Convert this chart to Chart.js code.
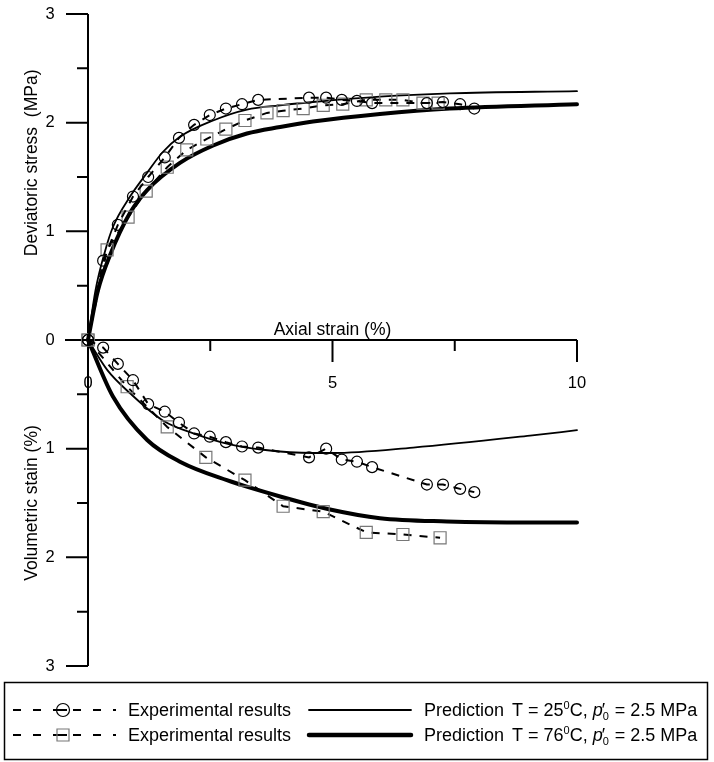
<!DOCTYPE html>
<html>
<head>
<meta charset="utf-8">
<script src="https://cdn.jsdelivr.net/npm/chart.js@4"></script>
<style>
  body { margin: 0; background: #fff; }
  #wrap { position: relative; width: 714px; height: 762px; }
</style>
</head>
<body>
<div id="wrap"><canvas id="chart"></canvas></div>
<script>
// experimental results, T = 25 C (circles)
const expAxial25 = [0, 0.31, 0.61, 0.92, 1.23, 1.57, 1.86, 2.17, 2.49, 2.82, 3.15, 3.48, 4.52, 4.87, 5.19, 5.50, 5.81, 6.93, 7.26, 7.61, 7.90];
const expStress25 = [0, 0.73, 1.06, 1.32, 1.50, 1.68, 1.86, 1.98, 2.07, 2.13, 2.17, 2.21, 2.23, 2.23, 2.21, 2.20, 2.18, 2.18, 2.19, 2.17, 2.13];
const expVol25 = [0, 0.07, 0.22, 0.37, 0.59, 0.66, 0.76, 0.86, 0.89, 0.94, 0.98, 0.99, 1.08, 1.00, 1.10, 1.12, 1.17, 1.33, 1.33, 1.37, 1.40];

// experimental results, T = 76 C (squares)
const expAxial76 = [0, 0.39, 0.82, 1.19, 1.62, 2.02, 2.43, 2.82, 3.21, 3.66, 3.99, 4.40, 4.81, 5.21, 5.69, 6.09, 6.44, 6.85, 7.16];
const expStress76 = [0, 0.83, 1.13, 1.37, 1.59, 1.75, 1.85, 1.94, 2.02, 2.09, 2.11, 2.13, 2.16, 2.17, 2.21, 2.21, 2.21, 2.18, 2.18];
const expAxialVol76 = [0, 0.80, 1.62, 2.41, 3.21, 3.99, 4.81, 5.69, 6.44, 7.20];
const expVol76 = [0, 0.43, 0.80, 1.08, 1.29, 1.53, 1.58, 1.77, 1.79, 1.82];

// predictions
const predAxialStress25 = [0, 0.15, 0.35, 0.51, 0.86, 1.21, 1.53, 1.88, 2.56, 3.25, 3.93, 4.60, 5.97, 7.40, 10];
const predStress25 = [0, 0.45, 0.82, 1.04, 1.32, 1.54, 1.73, 1.87, 2.02, 2.12, 2.16, 2.19, 2.24, 2.27, 2.29];
const predAxialStress76 = [0, 0.20, 0.45, 0.86, 1.21, 1.88, 2.56, 3.25, 3.93, 4.60, 5.97, 7.40, 10];
const predStress76 = [0, 0.45, 0.78, 1.17, 1.38, 1.63, 1.79, 1.90, 1.96, 2.01, 2.08, 2.13, 2.17];
const predAxialVol25 = [0, 0.40, 0.86, 1.53, 2.23, 2.90, 3.58, 4.60, 5.00, 6.65, 9.04, 10];
const predVol25 = [0, 0.28, 0.49, 0.74, 0.87, 0.96, 1.01, 1.04, 1.04, 0.99, 0.88, 0.83];
const predAxialVol76 = [0, 0.51, 1.21, 1.88, 2.84, 3.93, 4.95, 5.97, 7.34, 9.04, 10];
const predVol76 = [0, 0.52, 0.92, 1.12, 1.29, 1.44, 1.56, 1.64, 1.67, 1.68, 1.68];

// tick values
const yTicks = [-3, -2.5, -2, -1.5, -1, -0.5, 0, 0.5, 1, 1.5, 2, 2.5, 3];
const xTicks = [2.5, 5, 7.5, 10];
const xTickLabels = [0, 5, 10];

const font = "'Liberation Sans', Arial, sans-serif";

// volumetric strain is plotted downward
function pts(xs, ys, sign) {
    return xs.map((x, i) => ({ x: x, y: sign * ys[i] }));
}

function expSet(xs, ys, sign, style, color, r) {
    return {
        data: pts(xs, ys, sign),
        showLine: true,
        borderColor: '#000',
        borderWidth: 2,
        borderDash: [8, 8],
        pointStyle: style,
        pointRadius: r,
        pointBorderColor: color,
        pointBorderWidth: 1.2,
        pointBackgroundColor: 'rgba(0,0,0,0)',
        tension: 0
    };
}

function predSet(xs, ys, sign, width) {
    return {
        data: pts(xs, ys, sign),
        showLine: true,
        borderColor: '#000',
        borderWidth: width,
        pointRadius: 0,
        cubicInterpolationMode: 'monotone',
        borderCapStyle: 'round'
    };
}

const axesPlugin = {
    id: 'axesPlugin',
    beforeDatasetsDraw(chart) {
        const ctx = chart.ctx;
        const xs = chart.scales.x, ys = chart.scales.y;
        const x0 = xs.getPixelForValue(0), y0 = ys.getPixelForValue(0);
        ctx.save();
        ctx.strokeStyle = '#000';
        ctx.lineWidth = 2;
        ctx.beginPath();
        ctx.moveTo(x0, ys.getPixelForValue(3));
        ctx.lineTo(x0, ys.getPixelForValue(-3));
        ctx.moveTo(x0 - 23, y0);
        ctx.lineTo(xs.getPixelForValue(10), y0);
        yTicks.forEach(v => {
            const y = ys.getPixelForValue(v);
            const len = Number.isInteger(v) ? 22 : 11;
            ctx.moveTo(x0 - len, y);
            ctx.lineTo(x0, y);
        });
        xTicks.forEach(v => {
            const x = xs.getPixelForValue(v);
            const len = Number.isInteger(v) ? 22 : 11;
            ctx.moveTo(x, y0);
            ctx.lineTo(x, y0 + len);
        });
        ctx.stroke();
        ctx.restore();
    },
    afterDraw(chart) {
        const ctx = chart.ctx;
        const xs = chart.scales.x, ys = chart.scales.y;
        const y0 = ys.getPixelForValue(0);
        ctx.save();
        ctx.fillStyle = '#000';
        ctx.font = '16.5px ' + font;
        ctx.textAlign = 'center';
        ctx.textBaseline = 'middle';
        yTicks.filter(v => Number.isInteger(v)).forEach(v => {
            ctx.fillText(String(Math.abs(v)), 50, ys.getPixelForValue(v));
        });
        xTickLabels.forEach(v => {
            ctx.fillText(String(v), xs.getPixelForValue(v), y0 + 43);
        });

        ctx.font = '17.5px ' + font;
        ctx.textBaseline = 'alphabetic';
        ctx.fillText('Axial strain (%)', xs.getPixelForValue(5), y0 - 5);

        ctx.textBaseline = 'middle';
        ctx.save();
        ctx.translate(32, ys.getPixelForValue(1.63));
        ctx.rotate(-Math.PI / 2);
        ctx.fillText('Deviatoric stress  (MPa)', 0, 0);
        ctx.restore();
        ctx.save();
        ctx.translate(32, ys.getPixelForValue(-1.5));
        ctx.rotate(-Math.PI / 2);
        ctx.fillText('Volumetric stain (%)', 0, 0);
        ctx.restore();

        drawLegend(ctx);
        ctx.restore();
    }
};

function drawLegend(ctx) {
    ctx.save();
    ctx.strokeStyle = '#000';
    ctx.lineWidth = 1.5;
    ctx.strokeRect(4.5, 682.5, 703, 77);

    const rows = [
        { y: 710, base: 716, marker: 'circle', width: 1.8, temp: '25' },
        { y: 735, base: 741, marker: 'square', width: 4.5, temp: '76' }
    ];
    rows.forEach(r => {
        // dashed sample with marker
        ctx.lineWidth = 2;
        ctx.setLineDash([8, 12]);
        ctx.beginPath();
        ctx.moveTo(13, r.y);
        ctx.lineTo(116, r.y);
        ctx.stroke();
        ctx.setLineDash([]);
        ctx.lineWidth = 1.2;
        ctx.beginPath();
        if (r.marker === 'circle') {
            ctx.strokeStyle = '#000';
            ctx.arc(63, r.y, 6.5, 0, Math.PI * 2);
        } else {
            ctx.strokeStyle = '#777';
            ctx.rect(57, r.y - 6, 12, 12);
        }
        ctx.stroke();
        ctx.strokeStyle = '#000';
        ctx.lineWidth = 2;
        ctx.beginPath();
        ctx.moveTo(59, r.y);
        ctx.lineTo(67, r.y);
        ctx.stroke();

        // solid prediction sample
        ctx.lineWidth = r.width;
        ctx.lineCap = 'round';
        ctx.beginPath();
        ctx.moveTo(309, r.y);
        ctx.lineTo(411, r.y);
        ctx.stroke();
        ctx.lineCap = 'butt';

        ctx.fillStyle = '#000';
        ctx.textAlign = 'left';
        ctx.textBaseline = 'alphabetic';
        ctx.font = '18px ' + font;
        ctx.fillText('Experimental results', 128, r.base);
        ctx.fillText('Prediction', 424, r.base);

        let x = 512;
        const put = (txt, f, dy) => {
            ctx.font = f;
            ctx.fillText(txt, x, r.base + dy);
            x += ctx.measureText(txt).width;
        };
        put('T = ' + r.temp, '18px ' + font, 0);
        put('0', '11px ' + font, -7);
        put('C, ', '18px ' + font, 0);
        put('p', 'italic 18px ' + font, 0);
        ctx.font = '18px ' + font;
        ctx.fillText('\u2032', x - 1, r.base);
        ctx.font = '11px ' + font;
        ctx.fillText('0', x, r.base + 4);
        x += ctx.measureText('0').width + 1;
        put(' = 2.5 MPa', '18px ' + font, 0);
    });
    ctx.restore();
}

new Chart(document.getElementById('chart'), {
    type: 'scatter',
    data: {
        datasets: [
            expSet(expAxial25, expStress25, 1, 'circle', '#000', 5.5),
            expSet(expAxial25, expVol25, -1, 'circle', '#000', 5.5),
            expSet(expAxial76, expStress76, 1, 'rect', '#777', 8.5),
            expSet(expAxialVol76, expVol76, -1, 'rect', '#777', 8.5),
            predSet(predAxialStress25, predStress25, 1, 1.8),
            predSet(predAxialVol25, predVol25, -1, 1.8),
            predSet(predAxialStress76, predStress76, 1, 4),
            predSet(predAxialVol76, predVol76, -1, 4)
        ]
    },
    options: {
        responsive: true,
        maintainAspectRatio: false,
        animation: false,
        clip: false,
        layout: { padding: { left: 88, right: 137, top: 14, bottom: 96 } },
        scales: {
            x: { type: 'linear', min: 0, max: 10, display: false },
            y: { type: 'linear', min: -3, max: 3, display: false }
        },
        plugins: {
            legend: { display: false },
            tooltip: { enabled: false }
        }
    },
    plugins: [axesPlugin]
});
</script>
</body>
</html>
